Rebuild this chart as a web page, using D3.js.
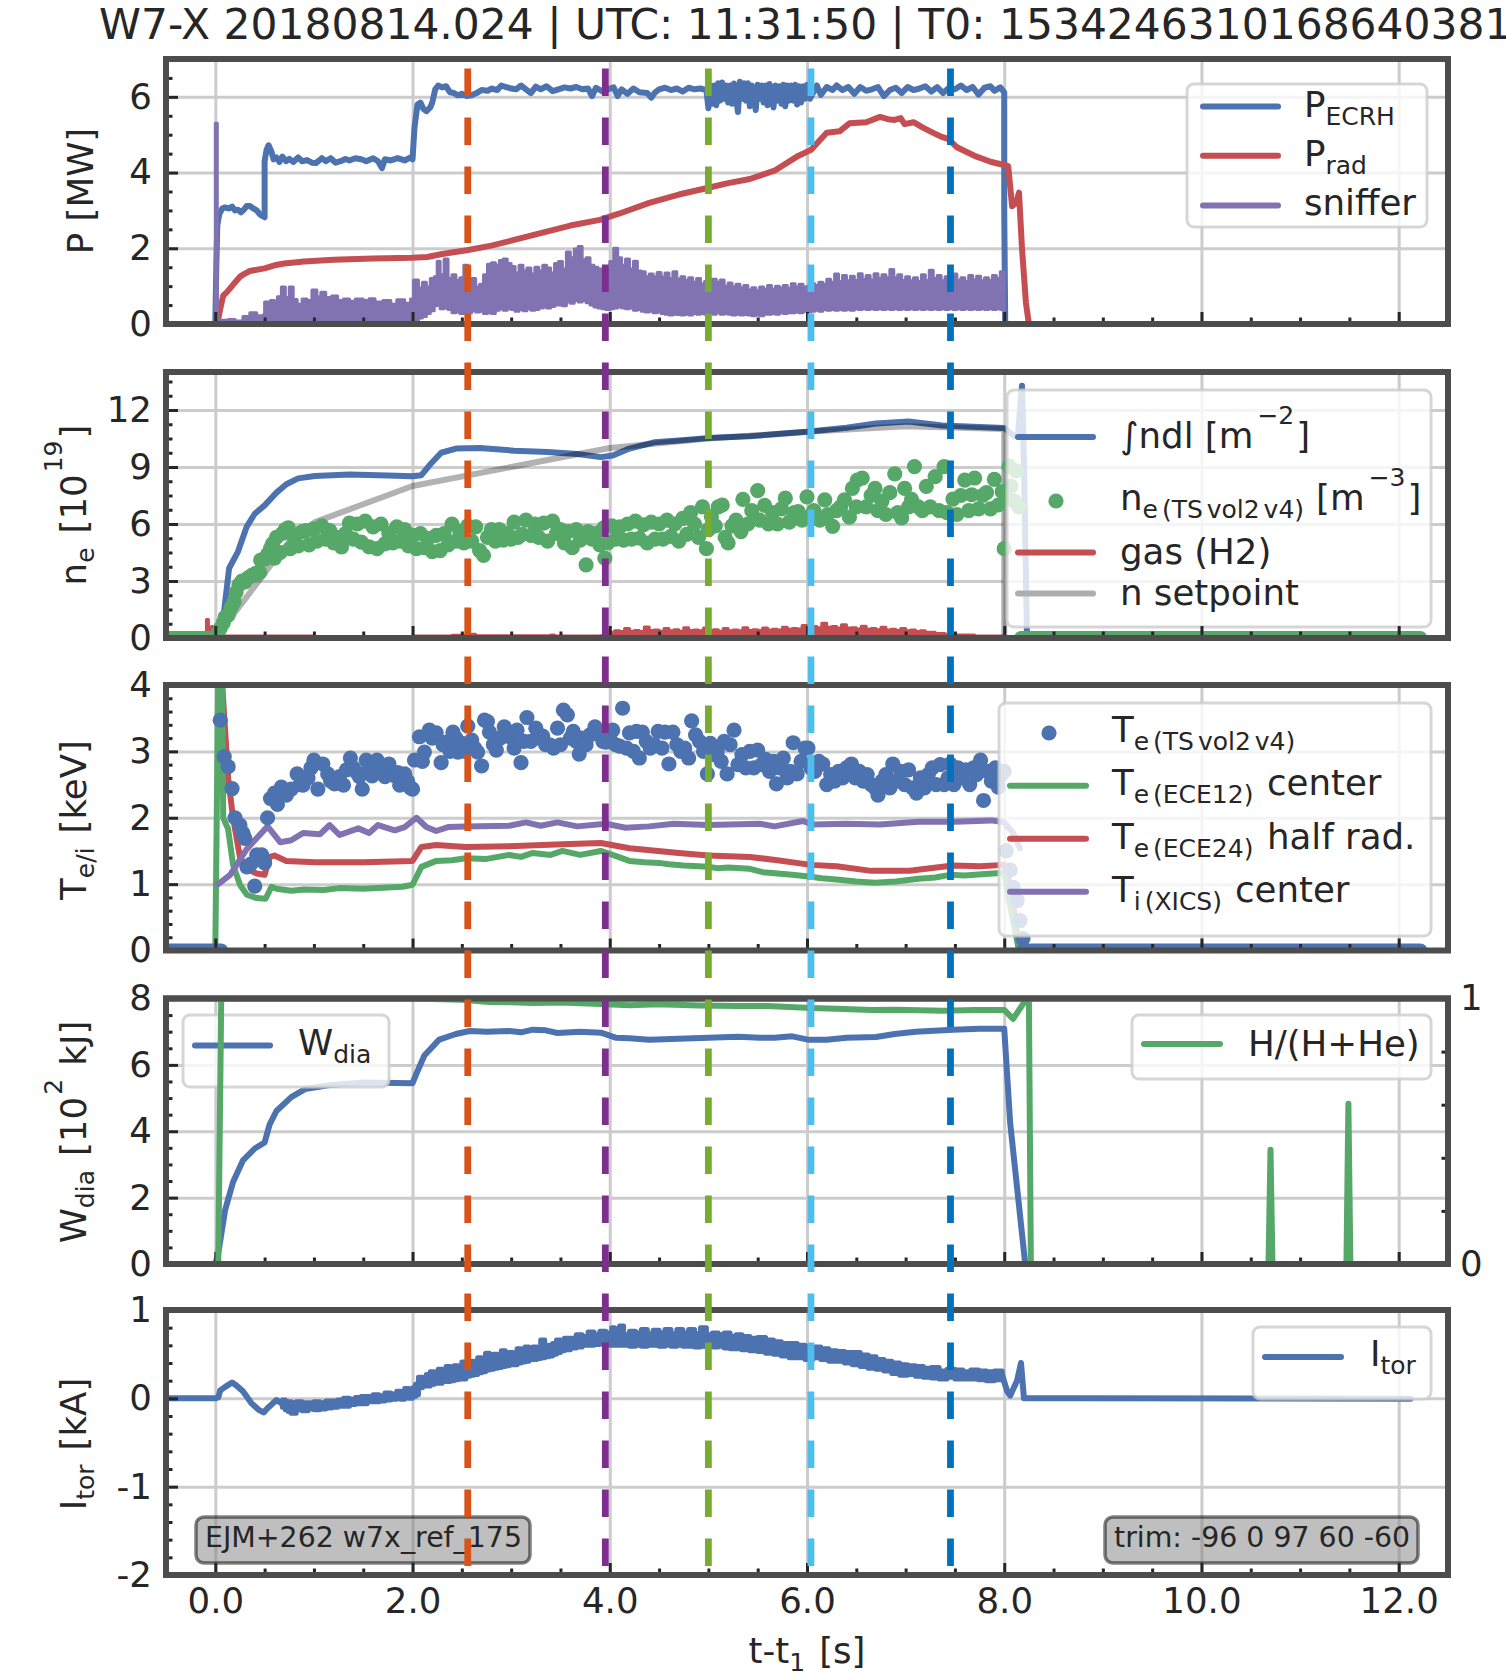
<!DOCTYPE html>
<html>
<head>
<meta charset="utf-8">
<script src="https://cdnjs.cloudflare.com/ajax/libs/d3/7.8.5/d3.min.js"></script>
<style>
  body { margin: 0; background: #fff; }
  svg { display: block; }
  text { font-family: "DejaVu Sans", sans-serif; fill: #262626; }
</style>
</head>
<body>
<div id="chart"></div>
<script>
// Values, [t, value] or [t, low, high] for the noisy traces
var xMajor = [0, 2, 4, 6, 8, 10, 12];
var xMinor = [0.5, 1, 1.5, 2.5, 3, 3.5, 4.5, 5, 5.5, 6.5, 7, 7.5, 8.5, 9, 9.5, 10.5, 11, 11.5, 12.5];
var markerTimes = [2.56, 3.955, 5.0, 6.04, 7.455];
var markerColors = ["#d95319", "#7e2f8e", "#77ac30", "#4dbeee", "#0072bd"];

var pEcrh = [[-0.5,0],[0,0],[0.01,1.5],[0.02,2.6],[0.04,2.9],[0.07,3.05],[0.1,3.08],[0.14,3.05],[0.17,3.1],[0.2,3.0],[0.23,3.02],[0.26,2.95],[0.29,3.02],[0.32,3.12],[0.35,3.12],[0.38,3.06],[0.42,3.0],[0.45,2.9],[0.48,2.85],[0.5,2.82],[0.5,4.3],[0.52,4.6],[0.54,4.72],[0.57,4.55],[0.59,4.35],[0.62,4.4],[0.65,4.28],[0.68,4.42],[0.72,4.3],[0.75,4.36],[0.79,4.28],[0.84,4.4],[0.88,4.3],[0.93,4.33],[0.98,4.26],[1.02,4.25],[1.08,4.38],[1.12,4.3],[1.17,4.38],[1.22,4.26],[1.27,4.3],[1.32,4.36],[1.36,4.32],[1.42,4.38],[1.48,4.35],[1.53,4.3],[1.6,4.38],[1.65,4.3],[1.69,4.12],[1.72,4.35],[1.78,4.32],[1.85,4.38],[1.92,4.32],[1.98,4.4],[2.0,4.35],[2.02,5.2],[2.05,5.8],[2.08,5.85],[2.11,5.68],[2.14,5.62],[2.18,5.72],[2.2,5.85],[2.23,6.2],[2.26,6.3],[2.3,6.25],[2.34,6.28],[2.38,6.12],[2.42,6.1],[2.46,6.04],[2.5,6.08],[2.55,6.02],[2.6,6.04],[2.65,6.1],[2.7,6.18],[2.76,6.16],[2.8,6.22],[2.86,6.18],[2.9,6.3],[2.95,6.26],[3.0,6.22],[3.05,6.2],[3.1,6.3],[3.15,6.2],[3.2,6.1],[3.25,6.27],[3.3,6.2],[3.36,6.28],[3.42,6.15],[3.48,6.2],[3.54,6.25],[3.6,6.22],[3.66,6.26],[3.72,6.2],[3.78,6.22],[3.82,6.02],[3.86,6.24],[3.92,6.15],[3.98,6.2],[4.04,6.25],[4.08,6.02],[4.12,6.2],[4.18,6.08],[4.24,6.22],[4.3,6.12],[4.38,6.1],[4.42,5.98],[4.46,6.12],[4.5,6.2],[4.56,6.24],[4.62,6.18],[4.68,6.22],[4.74,6.14],[4.8,6.24],[4.86,6.2],[4.92,6.22],[4.98,6.18],[5.0,5.7],[5.02,6.3],[5.04,5.82],[5.06,6.3],[5.08,5.78],[5.1,6.36],[5.12,5.9],[5.14,6.38],[5.16,5.95],[5.18,6.3],[5.2,5.85],[5.22,6.3],[5.24,5.82],[5.26,6.35],[5.28,6.0],[5.3,5.6],[5.32,6.4],[5.34,5.95],[5.36,6.36],[5.38,5.9],[5.4,6.36],[5.42,5.75],[5.44,6.3],[5.46,5.95],[5.48,5.65],[5.5,6.32],[5.52,5.95],[5.54,6.3],[5.56,5.85],[5.58,6.3],[5.6,5.78],[5.62,6.34],[5.64,5.95],[5.66,5.72],[5.68,6.3],[5.7,5.9],[5.72,6.28],[5.74,5.82],[5.76,6.32],[5.78,5.75],[5.8,6.3],[5.82,5.9],[5.84,6.3],[5.86,5.9],[5.88,6.32],[5.9,5.8],[5.92,6.28],[5.94,5.85],[5.96,6.28],[5.98,5.95],[6.0,6.32],[6.03,5.95],[6.06,6.1],[6.1,6.3],[6.14,6.05],[6.2,6.26],[6.26,6.18],[6.3,6.3],[6.36,6.18],[6.42,6.26],[6.48,6.08],[6.54,6.26],[6.6,6.16],[6.66,6.2],[6.72,6.26],[6.78,6.02],[6.84,6.18],[6.9,6.24],[6.96,6.1],[7.02,6.26],[7.08,6.18],[7.14,6.22],[7.2,6.28],[7.26,6.14],[7.32,6.26],[7.38,6.1],[7.44,6.24],[7.5,6.2],[7.56,6.3],[7.62,6.18],[7.68,6.26],[7.74,6.06],[7.8,6.24],[7.86,6.28],[7.9,6.16],[7.96,6.25],[8.0,6.12],[8.0,3.0],[8.01,0],[12.2,0]];
var pRad = [[0.02,0],[0.05,0.4],[0.08,0.75],[0.12,0.85],[0.2,1.1],[0.25,1.25],[0.3,1.33],[0.35,1.4],[0.5,1.47],[0.6,1.55],[0.7,1.6],[0.9,1.65],[1.2,1.7],[1.6,1.73],[2.0,1.75],[2.15,1.77],[2.3,1.85],[2.55,1.95],[2.8,2.07],[3.0,2.2],[3.3,2.4],[3.6,2.6],[3.9,2.75],[4.1,2.92],[4.4,3.2],[4.7,3.42],[5.0,3.6],[5.2,3.72],[5.42,3.83],[5.67,4.05],[5.91,4.44],[6.04,4.6],[6.2,5.05],[6.33,5.09],[6.43,5.3],[6.6,5.33],[6.74,5.47],[6.82,5.41],[6.89,5.39],[6.95,5.44],[6.99,5.28],[7.08,5.33],[7.18,5.18],[7.28,5.05],[7.36,4.95],[7.43,4.89],[7.52,4.67],[7.72,4.42],[7.87,4.28],[8.0,4.2],[8.04,4.17],[8.08,3.11],[8.12,3.2],[8.15,3.47],[8.18,2.0],[8.22,0.56],[8.25,0],[12.2,0]];
var pSniffer = [[-0.01,0,0],[0,0,5.3],[0.02,0,0.1],[0.13,0,0.12],[0.2,0,0.08],[0.28,0,0.2],[0.35,0,0.3],[0.42,0,0.22],[0.49,0,0.25],[0.5,0,0.58],[0.56,0,0.62],[0.6,0,0.5],[0.63,0,0.72],[0.67,0,0.98],[0.71,0,0.7],[0.75,0,0.98],[0.79,0,0.65],[0.83,0,0.52],[0.88,0,0.66],[0.93,0,0.62],[0.98,0,0.9],[1.03,0,0.72],[1.07,0,0.84],[1.12,0,0.7],[1.18,0,0.74],[1.24,0,0.62],[1.3,0,0.66],[1.36,0,0.6],[1.42,0,0.66],[1.5,0,0.62],[1.56,0,0.67],[1.62,0,0.58],[1.7,0,0.62],[1.78,0,0.52],[1.84,0,0.64],[1.92,0,0.55],[1.98,0,0.66],
[2.0,0.05,0.6],[2.01,0.1,1.16],[2.06,0.16,0.95],[2.1,0.2,1.1],[2.14,0.28,0.98],[2.18,0.35,1.2],[2.22,0.48,1.25],[2.25,0.5,1.66],[2.28,0.4,1.3],[2.32,0.42,1.72],[2.36,0.38,1.2],[2.4,0.3,1.3],[2.44,0.32,1.15],[2.48,0.28,1.22],[2.52,0.3,1.55],[2.56,0.3,1.1],[2.6,0.35,1.2],[2.64,0.32,0.98],[2.68,0.34,1.05],[2.72,0.28,1.3],[2.76,0.3,1.58],[2.8,0.28,1.62],[2.84,0.36,1.55],[2.88,0.4,1.68],[2.92,0.36,1.72],[2.96,0.4,1.6],[3.0,0.38,1.52],[3.04,0.34,1.35],[3.08,0.38,1.55],[3.12,0.35,1.4],[3.16,0.4,1.48],[3.2,0.36,1.32],[3.24,0.38,1.5],[3.28,0.42,1.4],[3.32,0.44,1.55],[3.36,0.42,1.48],[3.4,0.46,1.35],[3.44,0.5,1.6],[3.48,0.5,1.65],[3.52,0.48,1.45],[3.56,0.58,1.9],[3.6,0.55,1.75],[3.64,0.62,1.98],[3.68,0.58,2.05],[3.72,0.62,1.7],[3.76,0.56,1.75],[3.8,0.5,1.55],[3.84,0.45,1.5],[3.88,0.42,1.45],[3.92,0.4,1.38],[3.96,0.38,1.45],[4.0,0.4,1.65],[4.04,0.42,2.0],[4.08,0.45,1.75],[4.12,0.42,1.55],[4.16,0.4,1.72],[4.2,0.42,1.45],[4.24,0.36,1.66],[4.28,0.38,1.4],[4.32,0.34,1.38],[4.36,0.32,1.25],[4.4,0.34,1.32],[4.44,0.3,1.25],[4.48,0.32,1.36],[4.52,0.28,1.24],[4.56,0.26,1.35],[4.6,0.24,1.2],[4.64,0.26,1.38],[4.68,0.25,1.18],[4.72,0.24,1.25],[4.76,0.26,1.15],[4.8,0.24,1.22],[4.84,0.28,1.1],[4.88,0.26,1.2],[4.92,0.28,1.05],[4.96,0.26,1.12],[5.0,0.28,1.08],[5.04,0.26,1.18],[5.08,0.3,1.1],[5.12,0.26,1.16],[5.16,0.28,1.0],[5.2,0.26,1.08],[5.24,0.24,0.98],[5.28,0.26,1.05],[5.32,0.24,0.95],[5.36,0.25,1.02],[5.4,0.24,0.9],[5.44,0.22,0.96],[5.48,0.24,0.88],[5.52,0.22,0.98],[5.56,0.26,0.92],[5.6,0.26,1.02],[5.64,0.28,0.92],[5.68,0.26,1.0],[5.72,0.3,0.95],[5.76,0.28,1.02],[5.8,0.3,0.94],[5.84,0.3,1.06],[5.88,0.32,0.98],[5.92,0.3,1.05],[5.96,0.34,0.98],[6.0,0.32,1.0],[6.04,0.34,1.06],[6.08,0.36,1.02],[6.12,0.34,1.1],[6.16,0.38,1.05],[6.2,0.36,1.18],[6.24,0.38,1.1],[6.28,0.36,1.32],[6.32,0.38,1.12],[6.36,0.36,1.28],[6.4,0.38,1.14],[6.44,0.36,1.26],[6.48,0.4,1.15],[6.52,0.38,1.33],[6.56,0.4,1.18],[6.6,0.38,1.28],[6.64,0.4,1.16],[6.68,0.38,1.33],[6.72,0.4,1.2],[6.76,0.38,1.3],[6.8,0.4,1.22],[6.84,0.38,1.44],[6.88,0.4,1.22],[6.92,0.38,1.3],[6.96,0.4,1.15],[7.0,0.38,1.25],[7.04,0.4,1.14],[7.08,0.38,1.22],[7.12,0.4,1.12],[7.16,0.38,1.3],[7.2,0.4,1.15],[7.24,0.38,1.42],[7.28,0.4,1.2],[7.32,0.38,1.28],[7.36,0.4,1.14],[7.4,0.38,1.25],[7.44,0.4,1.2],[7.48,0.38,1.32],[7.52,0.4,1.15],[7.56,0.38,1.22],[7.6,0.4,1.12],[7.64,0.38,1.28],[7.68,0.4,1.16],[7.72,0.38,1.26],[7.76,0.4,1.14],[7.8,0.38,1.22],[7.84,0.4,1.15],[7.88,0.38,1.28],[7.92,0.4,1.2],[7.96,0.38,1.38],[8.0,0,0]];

var nIntegral = [[-0.5,0],[0.03,0],[0.08,1.0],[0.14,3.67],[0.23,4.55],[0.32,5.88],[0.4,6.54],[0.5,6.98],[0.62,7.65],[0.72,8.09],[0.84,8.4],[1.01,8.53],[1.36,8.6],[1.75,8.55],[2.0,8.51],[2.09,8.57],[2.19,9.2],[2.29,9.75],[2.44,9.97],[2.68,10.0],[3.03,9.86],[3.37,9.79],[3.67,9.68],[3.91,9.52],[4.03,9.6],[4.2,9.97],[4.45,10.3],[4.7,10.4],[4.99,10.52],[5.42,10.62],[6.0,10.85],[6.4,11.07],[6.7,11.29],[7.03,11.4],[7.37,11.18],[8.0,11.05],[8.1,10.63],[8.14,10.74],[8.18,13.28],[8.2,9.2],[8.23,0.35],[8.25,0],[12.23,0]];
var nSetpoint = [[0,0],[0.28,1.9],[0.57,3.9],[0.77,5.2],[1.01,6.1],[2.0,8.0],[4.0,10.0],[5.0,10.5],[6.0,10.85],[7.0,11.14],[8.0,11.0],[8.0,0],[8.2,0]];
var gasH2 = [[-0.5,0,0],[-0.1,0,0],[-0.09,0,0.97],[-0.07,0,0.1],[-0.04,0,0.6],[-0.02,0,0.1],[1,0,0.08],[2,0,0.1],[2.4,0,0.14],[2.6,0,0.2],[2.64,0,0.12],[3,0,0.12],[3.4,0,0.16],[3.44,0,0.1],[3.9,0,0.12],[3.95,0,0.42],[4.0,0,0.3],[4.05,0,0.38],[4.1,0,0.34],[4.15,0,0.5],[4.2,0,0.36],[4.25,0,0.4],[4.3,0,0.34],[4.35,0,0.58],[4.4,0,0.4],[4.45,0,0.42],[4.5,0,0.36],[4.55,0,0.5],[4.6,0,0.38],[4.65,0,0.44],[4.7,0,0.36],[4.75,0,0.54],[4.8,0,0.4],[4.85,0,0.42],[4.9,0,0.38],[4.95,0,0.52],[5.0,0,0.4],[5.05,0,0.44],[5.1,0,0.36],[5.15,0,0.5],[5.2,0,0.38],[5.25,0,0.42],[5.3,0,0.38],[5.35,0,0.54],[5.4,0,0.4],[5.45,0,0.44],[5.5,0,0.4],[5.55,0,0.52],[5.6,0,0.42],[5.65,0,0.46],[5.7,0,0.42],[5.75,0,0.56],[5.8,0,0.46],[5.85,0,0.5],[5.9,0,0.48],[5.95,0,0.66],[6.0,0,0.52],[6.05,0,0.6],[6.1,0,0.54],[6.15,0,0.78],[6.2,0,0.56],[6.25,0,0.6],[6.3,0,0.52],[6.35,0,0.7],[6.4,0,0.52],[6.45,0,0.54],[6.5,0,0.48],[6.55,0,0.62],[6.6,0,0.46],[6.65,0,0.5],[6.7,0,0.44],[6.75,0,0.56],[6.8,0,0.42],[6.85,0,0.46],[6.9,0,0.4],[6.95,0,0.5],[7.0,0,0.38],[7.05,0,0.42],[7.1,0,0.34],[7.15,0,0.38],[7.2,0,0.3],[7.25,0,0.3],[7.3,0,0.24],[7.35,0,0.24],[7.4,0,0.18],[7.45,0,0.16],[7.7,0,0.1],[8.0,0,0.06],[8.2,0,0]];
var neThomson = [[0.02,0.2],[0.05,0.5],[0.08,0.8],[0.1,1.1],[0.13,1.2],[0.16,1.6],[0.19,1.9],[0.21,2.4],[0.24,2.8],[0.27,3.0],[0.3,2.95],[0.33,3.15],[0.37,3.3],[0.41,3.4],[0.45,3.45],[0.46,4.1],[0.5,4.15],[0.53,4.4],[0.56,4.7],[0.58,4.95],[0.6,4.2],[0.62,5.3],[0.66,4.5],[0.68,5.5],[0.71,5.7],[0.74,5.8],[0.76,4.7],[0.8,5.3],[0.84,4.85],[0.88,5.6],[0.92,5.65],[0.95,4.9],[1.0,5.75],[1.03,5.1],[1.08,5.9],[1.12,5.2],[1.16,5.65],[1.2,5.0],[1.24,5.3],[1.28,4.8],[1.32,5.5],[1.36,6.05],[1.4,5.2],[1.44,6.0],[1.48,5.05],[1.52,6.15],[1.56,4.8],[1.6,5.85],[1.64,4.7],[1.68,6.0],[1.72,4.95],[1.76,5.5],[1.8,5.0],[1.84,5.85],[1.88,5.1],[1.92,5.7],[1.96,4.85],[2.0,5.4],[2.04,4.7],[2.08,5.5],[2.12,4.75],[2.16,5.25],[2.2,4.55],[2.24,5.4],[2.28,4.6],[2.32,5.5],[2.36,4.9],[2.4,6.0],[2.44,5.1],[2.48,5.6],[2.52,5.0],[2.56,5.9],[2.6,5.1],[2.64,5.85],[2.68,4.6],[2.72,4.35],[2.76,5.3],[2.8,5.7],[2.84,5.1],[2.88,5.7],[2.92,5.15],[2.96,5.5],[3.0,5.2],[3.03,6.1],[3.07,5.3],[3.11,5.45],[3.15,6.2],[3.2,5.4],[3.24,6.0],[3.28,5.3],[3.33,6.05],[3.37,5.1],[3.42,6.15],[3.46,5.5],[3.5,5.7],[3.54,5.0],[3.58,5.6],[3.62,4.75],[3.66,5.7],[3.7,5.15],[3.76,3.85],[3.78,5.6],[3.82,5.2],[3.86,5.5],[3.9,4.9],[3.94,5.8],[3.95,4.2],[3.98,5.0],[4.02,5.9],[4.06,5.2],[4.1,5.85],[4.14,5.15],[4.18,6.0],[4.22,5.2],[4.26,6.15],[4.3,5.25],[4.34,5.95],[4.38,5.0],[4.42,6.1],[4.46,5.2],[4.5,6.0],[4.54,5.2],[4.58,6.2],[4.62,5.35],[4.66,6.0],[4.7,5.1],[4.74,6.3],[4.78,5.45],[4.82,6.6],[4.86,6.0],[4.9,5.3],[4.94,6.9],[4.98,4.7],[5.0,5.7],[5.03,6.4],[5.07,5.9],[5.1,6.9],[5.14,7.0],[5.17,5.3],[5.2,5.0],[5.24,5.9],[5.28,6.2],[5.33,5.6],[5.35,7.3],[5.4,6.0],[5.44,6.7],[5.5,7.76],[5.52,6.2],[5.57,6.98],[5.61,6.0],[5.65,6.6],[5.7,6.0],[5.74,6.8],[5.78,7.36],[5.82,6.1],[5.87,6.6],[5.91,6.65],[5.95,6.2],[6.0,7.43],[6.03,6.4],[6.07,6.7],[6.1,6.3],[6.13,6.2],[6.18,7.27],[6.21,6.5],[6.26,5.88],[6.3,6.7],[6.34,6.9],[6.38,7.27],[6.43,6.36],[6.46,7.87],[6.5,6.9],[6.51,8.31],[6.56,8.42],[6.6,6.9],[6.65,7.5],[6.69,7.87],[6.72,6.7],[6.76,7.2],[6.8,6.5],[6.84,7.65],[6.89,8.64],[6.92,6.6],[6.96,6.32],[6.99,7.87],[7.03,6.9],[7.06,7.3],[7.09,9.02],[7.13,6.9],[7.17,6.7],[7.21,7.98],[7.25,6.9],[7.3,8.49],[7.34,6.7],[7.39,9.02],[7.42,6.6],[7.48,7.31],[7.52,6.5],[7.56,7.5],[7.6,8.31],[7.64,6.7],[7.67,7.54],[7.7,8.42],[7.74,6.8],[7.78,7.5],[7.82,7.65],[7.86,6.8],[7.9,8.35],[7.94,7.0],[7.98,7.7],[8.0,4.7],[8.03,7.4],[8.07,8.0],[8.05,9.05],[8.1,7.2],[8.12,8.8],[8.15,6.9]];
var neZeroBefore = [[-0.5,0],[0.03,0]];
var neZeroAfter = [[8.17,0],[12.22,0]];

var teThomson = [[0.05,3.47],[0.09,2.92],[0.13,2.77],[0.17,2.44],[0.2,2.0],[0.25,1.89],[0.28,1.77],[0.3,1.69],[0.32,1.26],[0.36,1.3],[0.4,0.97],[0.42,1.44],[0.47,1.44],[0.5,1.32],[0.53,2.0],[0.56,2.29],[0.6,2.37],[0.63,2.2],[0.67,2.46],[0.72,2.34],[0.77,2.43],[0.83,2.66],[0.86,2.5],[0.89,2.49],[0.94,2.6],[0.97,2.75],[1.0,2.87],[1.04,2.43],[1.09,2.81],[1.14,2.66],[1.17,2.55],[1.21,2.51],[1.26,2.62],[1.3,2.49],[1.33,2.72],[1.37,2.9],[1.4,2.75],[1.43,2.69],[1.46,2.62],[1.49,2.43],[1.53,2.87],[1.56,2.72],[1.59,2.63],[1.62,2.78],[1.64,2.87],[1.68,2.7],[1.72,2.62],[1.76,2.81],[1.79,2.65],[1.82,2.63],[1.85,2.68],[1.87,2.49],[1.9,2.6],[1.92,2.66],[1.95,2.55],[1.98,2.45],[2.0,2.43],[2.02,2.87],[2.07,3.22],[2.1,2.85],[2.12,2.99],[2.17,3.32],[2.2,3.2],[2.24,3.28],[2.29,2.83],[2.31,3.1],[2.34,3.14],[2.38,3.0],[2.41,3.29],[2.44,3.2],[2.46,2.99],[2.5,3.12],[2.53,3.0],[2.56,3.38],[2.6,3.17],[2.63,3.05],[2.66,2.99],[2.7,2.78],[2.73,3.47],[2.76,3.45],[2.78,3.29],[2.82,3.1],[2.85,3.02],[2.89,3.2],[2.93,3.37],[2.96,3.3],[2.99,3.22],[3.03,3.05],[3.06,3.32],[3.1,2.83],[3.13,3.15],[3.16,3.51],[3.2,3.15],[3.25,3.35],[3.28,3.2],[3.32,3.23],[3.35,3.1],[3.39,3.1],[3.43,3.05],[3.47,3.35],[3.5,3.1],[3.53,3.62],[3.57,3.55],[3.6,3.2],[3.63,3.3],[3.66,3.15],[3.69,2.96],[3.72,3.2],[3.76,3.1],[3.8,3.25],[3.85,3.37],[3.9,3.25],[3.93,3.15],[3.96,3.14],[4.0,3.2],[4.03,3.32],[4.06,3.1],[4.1,3.08],[4.13,3.65],[4.17,3.05],[4.2,3.28],[4.24,3.0],[4.27,3.3],[4.3,2.9],[4.33,3.29],[4.37,3.15],[4.41,3.05],[4.45,3.1],[4.49,3.3],[4.53,3.05],[4.56,3.29],[4.6,2.81],[4.64,3.29],[4.68,3.1],[4.72,3.0],[4.76,3.05],[4.8,2.9],[4.83,3.46],[4.87,3.25],[4.91,3.15],[4.95,3.0],[4.99,2.66],[5.02,3.12],[5.06,2.95],[5.09,3.0],[5.13,2.85],[5.16,3.15],[5.19,2.66],[5.22,3.1],[5.26,3.32],[5.3,2.8],[5.34,2.95],[5.38,2.75],[5.42,3.0],[5.46,2.75],[5.5,3.02],[5.54,2.8],[5.58,2.88],[5.62,2.7],[5.66,2.85],[5.69,2.51],[5.72,2.75],[5.76,2.9],[5.8,2.6],[5.83,2.7],[5.86,3.13],[5.9,2.66],[5.94,2.85],[5.98,3.05],[6.01,3.05],[6.04,2.75],[6.08,2.7],[6.12,2.85],[6.16,2.81],[6.2,2.5],[6.24,2.65],[6.28,2.55],[6.32,2.7],[6.36,2.6],[6.4,2.75],[6.45,2.81],[6.49,2.6],[6.53,2.7],[6.57,2.55],[6.61,2.65],[6.65,2.5],[6.69,2.45],[6.72,2.34],[6.76,2.55],[6.8,2.65],[6.84,2.45],[6.87,2.81],[6.91,2.55],[6.95,2.7],[6.99,2.5],[7.03,2.72],[7.07,2.45],[7.11,2.37],[7.15,2.6],[7.19,2.45],[7.23,2.65],[7.27,2.75],[7.31,2.5],[7.35,2.8],[7.39,2.5],[7.43,2.6],[7.45,2.81],[7.49,2.5],[7.53,2.75],[7.57,2.6],[7.61,2.72],[7.65,2.5],[7.69,2.75],[7.72,2.65],[7.76,2.87],[7.79,2.26],[7.83,2.7],[7.87,2.55],[7.91,2.75],[7.94,2.46],[7.96,2.63],[8.0,2.7],[8.02,1.5],[8.06,1.21],[8.09,0.95],[8.13,0.75],[8.16,0.45],[8.19,0.18]];
var teZeroBefore = [[-0.5,0],[0.06,0]];
var teZeroAfter = [[8.19,0],[12.22,0]];
var teEce12 = [[-0.5,0],[0,0],[0.03,4.2],[0.07,4.2],[0.08,2.0],[0.13,1.83],[0.18,1.29],[0.25,0.99],[0.32,0.84],[0.42,0.79],[0.51,0.78],[0.57,0.96],[0.62,0.93],[0.77,0.9],[0.9,0.92],[1.1,0.91],[1.26,0.94],[1.5,0.93],[1.75,0.95],[1.9,0.96],[2.0,0.99],[2.09,1.26],[2.24,1.35],[2.4,1.36],[2.54,1.39],[2.75,1.38],[2.98,1.44],[3.1,1.41],[3.22,1.47],[3.4,1.44],[3.52,1.5],[3.7,1.44],[3.91,1.5],[4.05,1.43],[4.2,1.35],[4.35,1.33],[4.5,1.32],[4.6,1.3],[4.75,1.28],[5.0,1.26],[5.1,1.24],[5.2,1.25],[5.42,1.23],[5.55,1.18],[5.7,1.16],[5.85,1.14],[6.04,1.11],[6.15,1.09],[6.3,1.07],[6.5,1.04],[6.69,1.02],[6.9,1.04],[7.13,1.08],[7.3,1.1],[7.45,1.14],[7.6,1.13],[7.7,1.14],[8.0,1.17],[8.05,0.75],[8.15,0],[12.2,0]];
var teEce24 = [[0.06,4.2],[0.07,4.0],[0.13,2.6],[0.18,2.0],[0.25,1.41],[0.32,1.23],[0.42,1.16],[0.5,1.14],[0.55,1.41],[0.6,1.43],[0.72,1.35],[1.01,1.33],[1.5,1.33],[2.0,1.35],[2.09,1.56],[2.24,1.59],[2.54,1.56],[2.98,1.57],[3.52,1.6],[3.91,1.62],[4.2,1.54],[4.7,1.47],[5.0,1.43],[5.42,1.41],[5.7,1.36],[6.04,1.29],[6.3,1.27],[6.65,1.2],[7.04,1.2],[7.48,1.28],[7.75,1.27],[8.0,1.29],[8.07,0.93],[8.15,0],[12.2,0]];
var tiXics = [[0.03,1.0],[0.15,1.14],[0.32,1.53],[0.53,1.87],[0.66,1.63],[0.77,1.66],[0.89,1.77],[1.06,1.75],[1.16,1.89],[1.26,1.74],[1.45,1.84],[1.56,1.77],[1.65,1.89],[1.82,1.81],[1.92,1.86],[2.04,2.0],[2.14,1.86],[2.24,1.8],[2.36,1.86],[2.54,1.87],[2.98,1.88],[3.15,1.93],[3.3,1.88],[3.47,1.93],[3.67,1.87],[3.96,1.91],[4.16,1.85],[4.4,1.87],[4.65,1.91],[5.0,1.89],[5.52,1.91],[5.67,1.87],[5.96,1.95],[6.06,1.9],[6.4,1.91],[6.74,1.9],[7.13,1.94],[7.5,1.94],[7.87,1.96],[8.0,1.93],[8.09,1.77],[8.16,1.54]];

var wDia = [[-0.5,0],[0,0],[0.03,0.32],[0.1,1.63],[0.18,2.47],[0.28,3.12],[0.4,3.48],[0.5,3.66],[0.55,4.2],[0.62,4.61],[0.77,5.03],[0.91,5.27],[1.16,5.39],[1.5,5.47],[2.0,5.45],[2.04,5.74],[2.12,6.28],[2.27,6.76],[2.44,6.93],[2.58,7.02],[2.75,7.0],[2.98,7.02],[3.1,6.98],[3.22,7.06],[3.35,7.04],[3.47,6.96],[3.7,7.0],[3.91,6.97],[4.06,6.82],[4.2,6.8],[4.4,6.76],[5.0,6.82],[5.3,6.85],[5.52,6.82],[5.67,6.82],[5.85,6.86],[6.01,6.76],[6.2,6.76],[6.4,6.82],[6.7,6.84],[6.89,6.93],[7.1,7.0],[7.48,7.06],[7.75,7.09],[8.0,7.09],[8.06,4.26],[8.21,0.08],[8.22,0]];
var hFraction = [[-0.5,0],[0.03,0],[0.06,1.0],[0.07,1.0],[0.5,1.0],[1,1.0],[2,1.0],[2.5,0.995],[2.78,0.987],[3.0,0.986],[3.22,0.983],[3.5,0.985],[3.91,0.979],[4.2,0.975],[4.5,0.978],[4.9,0.974],[5.29,0.972],[5.6,0.972],[6.04,0.964],[6.3,0.961],[6.65,0.957],[6.9,0.958],[7.38,0.954],[7.7,0.957],[8.0,0.957],[8.09,0.923],[8.19,0.979],[8.22,0.994],[8.25,1.0],[8.27,0],[10.68,0],[10.7,0.43],[10.72,0],[11.47,0],[11.49,0.604],[11.51,0],[12.2,0]];

var iTorHead = [[-0.5,0],[0,0],[0.03,0.01],[0.05,0.09],[0.1,0.13],[0.17,0.18],[0.22,0.14],[0.28,0.08],[0.37,-0.06],[0.44,-0.13],[0.49,-0.16],[0.54,-0.1],[0.62,-0.02],[0.68,-0.06]];
var iTorNoisy = [[0.68,-0.1,-0.02],[0.71,-0.13,-0.04],[0.74,-0.15,-0.04],[0.77,-0.17,-0.05],[0.82,-0.13,-0.04],[0.88,-0.14,-0.05],[0.94,-0.12,-0.05],[1.0,-0.13,-0.04],[1.06,-0.12,-0.05],[1.12,-0.11,-0.03],[1.18,-0.1,-0.03],[1.24,-0.09,-0.02],[1.3,-0.09,0],[1.36,-0.07,-0.01],[1.42,-0.06,0.01],[1.48,-0.06,0.02],[1.54,-0.04,0.02],[1.6,-0.04,0.04],[1.66,-0.03,0.03],[1.72,-0.02,0.06],[1.78,-0.01,0.05],[1.84,0,0.08],[1.88,-0.01,0.06],[1.92,0.01,0.11],[1.96,0,0.07],[2.0,0.02,0.12],[2.03,0.04,0.16],[2.06,0.12,0.24],[2.1,0.14,0.22],[2.14,0.14,0.27],[2.18,0.16,0.3],[2.22,0.17,0.26],[2.26,0.17,0.33],[2.3,0.2,0.28],[2.34,0.19,0.36],[2.38,0.2,0.32],[2.42,0.21,0.37],[2.46,0.22,0.33],[2.5,0.22,0.41],[2.54,0.25,0.36],[2.58,0.26,0.42],[2.62,0.27,0.4],[2.66,0.29,0.46],[2.7,0.3,0.44],[2.74,0.32,0.51],[2.78,0.33,0.46],[2.82,0.34,0.5],[2.86,0.35,0.47],[2.9,0.36,0.54],[2.94,0.37,0.47],[2.98,0.38,0.52],[3.02,0.38,0.49],[3.06,0.4,0.56],[3.1,0.41,0.5],[3.14,0.42,0.58],[3.18,0.44,0.52],[3.22,0.44,0.58],[3.26,0.45,0.53],[3.3,0.46,0.66],[3.34,0.47,0.55],[3.38,0.48,0.6],[3.42,0.5,0.62],[3.46,0.52,0.66],[3.5,0.54,0.63],[3.54,0.55,0.68],[3.6,0.57,0.68],[3.66,0.58,0.72],[3.72,0.6,0.7],[3.78,0.6,0.75],[3.84,0.61,0.72],[3.9,0.62,0.76],[3.96,0.6,0.74],[4.02,0.6,0.8],[4.05,0.6,0.72],[4.1,0.6,0.82],[4.14,0.6,0.72],[4.2,0.59,0.76],[4.26,0.6,0.74],[4.32,0.59,0.78],[4.38,0.6,0.73],[4.44,0.6,0.77],[4.5,0.59,0.74],[4.56,0.6,0.78],[4.62,0.59,0.73],[4.68,0.6,0.78],[4.74,0.59,0.74],[4.8,0.59,0.78],[4.86,0.58,0.73],[4.92,0.59,0.8],[4.98,0.58,0.72],[5.04,0.58,0.74],[5.1,0.59,0.72],[5.16,0.57,0.74],[5.22,0.56,0.7],[5.28,0.56,0.72],[5.34,0.55,0.7],[5.42,0.54,0.68],[5.5,0.53,0.69],[5.58,0.51,0.66],[5.66,0.5,0.64],[5.74,0.48,0.62],[5.82,0.46,0.62],[5.9,0.46,0.6],[5.98,0.44,0.58],[6.06,0.46,0.58],[6.14,0.44,0.56],[6.22,0.42,0.54],[6.3,0.42,0.53],[6.38,0.4,0.52],[6.46,0.38,0.52],[6.54,0.36,0.49],[6.62,0.34,0.47],[6.7,0.33,0.44],[6.78,0.31,0.42],[6.86,0.28,0.4],[6.94,0.26,0.38],[7.02,0.27,0.37],[7.1,0.25,0.36],[7.18,0.24,0.34],[7.26,0.23,0.35],[7.34,0.22,0.31],[7.42,0.24,0.33],[7.5,0.22,0.32],[7.58,0.22,0.3],[7.66,0.22,0.32],[7.74,0.21,0.31],[7.82,0.2,0.3],[7.9,0.21,0.31],[7.98,0.22,0.3]];
var iTorTail = [[7.98,0.26],[8.03,0.08],[8.06,0.03],[8.13,0.2],[8.17,0.4],[8.2,0],[8.7,0],[12.12,-0.005]];

// layout
var width = 1506, height = 1678;
var frameLeft = 166, frameRight = 1448;
var blue = "#4c72b0", green = "#55a868", red = "#c44e52", purple = "#8172b2";
var lw = 6, fs = 35.6, fsSub = 25;

var svg = d3.select("#chart").append("svg").attr("width", width).attr("height", height);
svg.append("rect").attr("width", width).attr("height", height).attr("fill", "#fff");

var x = d3.scaleLinear().domain([-0.5, 12.5]).range([frameLeft, frameRight]);

var clipCount = 0;
function makePanel(top, bottom, yDomain, yMajor, yMinor) {
	var y = d3.scaleLinear().domain(yDomain).range([bottom, top]);
	var g = svg.append("g");
	var id = "clip" + (clipCount++);
	svg.append("clipPath").attr("id", id).append("rect")
		.attr("x", frameLeft).attr("y", top).attr("width", frameRight - frameLeft).attr("height", bottom - top);

	// grid
	var grid = g.append("g").attr("class", "grid");
	grid.append("g").attr("transform", "translate(0," + bottom + ")")
		.call(d3.axisBottom(x).tickValues(xMajor).tickSize(-(bottom - top)).tickFormat(""));
	grid.append("g").attr("transform", "translate(" + frameLeft + ",0)")
		.call(d3.axisLeft(y).tickValues(yMajor).tickSize(-(frameRight - frameLeft)).tickFormat(""));
	grid.selectAll("line").attr("stroke", "#cccccc").attr("stroke-width", 3);
	grid.selectAll(".domain").remove();

	var data = g.append("g").attr("clip-path", "url(#" + id + ")");
	var over = g.append("g");
	return {g: g, y: y, top: top, bottom: bottom, data: data, over: over, yMajor: yMajor, yMinor: yMinor, clip: id};
}

function finishPanel(p, showX) {
	var ticks = p.g.append("g");
	ticks.append("g").attr("transform", "translate(0," + p.bottom + ")")
		.call(d3.axisBottom(x).tickValues(xMajor).tickSize(-12).tickPadding(13)
			.tickFormat(showX ? d3.format(".1f") : ""));
	ticks.append("g").attr("transform", "translate(0," + p.bottom + ")")
		.call(d3.axisBottom(x).tickValues(xMinor).tickSize(-6.5).tickFormat(""));
	ticks.append("g").attr("transform", "translate(" + frameLeft + ",0)")
		.call(d3.axisLeft(p.y).tickValues(p.yMajor).tickSize(-12).tickPadding(14).tickFormat(String));
	ticks.append("g").attr("transform", "translate(" + frameLeft + ",0)")
		.call(d3.axisLeft(p.y).tickValues(p.yMinor).tickSize(-6.5).tickFormat(""));
	ticks.selectAll(".domain").remove();
	ticks.selectAll("line").attr("stroke", "#262626").attr("stroke-width", 3);
	ticks.selectAll("text").style("font-size", fs + "px").style("font-family", '"DejaVu Sans"').attr("fill", "#262626");
	p.g.append("rect").attr("x", frameLeft).attr("y", p.top)
		.attr("width", frameRight - frameLeft).attr("height", p.bottom - p.top)
		.attr("fill", "none").attr("stroke", "#4d4d4d").attr("stroke-width", 6);
}

function drawLine(p, rows, color, w, scale) {
	var yy = scale || p.y;
	return p.data.append("path").datum(rows)
		.attr("fill", "none").attr("stroke", color).attr("stroke-width", w || lw)
		.attr("stroke-linejoin", "round").attr("stroke-linecap", "round")
		.attr("d", d3.line().x(function(d) { return x(d[0]); }).y(function(d) { return yy(d[1]); }));
}

function drawBand(p, rows, color, w) {
	return p.data.append("path").datum(rows)
		.attr("fill", color).attr("stroke", color).attr("stroke-width", w || 3).attr("stroke-linejoin", "round")
		.attr("d", d3.area().curve(d3.curveStepAfter).x(function(d) { return x(d[0]); })
			.y0(function(d) { return p.y(d[1]); }).y1(function(d) { return p.y(d[2]); }));
}

function drawDots(p, rows, color) {
	p.data.append("g").selectAll("circle").data(rows).enter().append("circle")
		.attr("cx", function(d) { return x(d[0]); }).attr("cy", function(d) { return p.y(d[1]); })
		.attr("r", 7.6).attr("fill", color);
}

// text with sub and superscripts: parts are [string, kind, extra dx]
function rich(parent, px, py, parts, opts) {
	opts = opts || {};
	var t = parent.append("text").attr("x", px).attr("y", py)
		.attr("text-anchor", opts.anchor || "start")
		.style("font-size", (opts.size || fs) + "px");
	if (opts.rotate) t.attr("transform", "rotate(-90," + px + "," + py + ")");
	var cur = 0;
	parts.forEach(function(part) {
		var kind = part[1];
		var off = kind === "sub" ? 8 : kind === "sup" ? (opts.supRaise || -24) : 0;
		var s = t.append("tspan").attr("dy", off - cur).text(part[0]);
		if (kind) s.style("font-size", (opts.subSize || fsSub) + "px").style("word-spacing", "-4px");
		if (part[2]) s.attr("dx", part[2]);
		cur = off;
	});
	return t;
}

function legendBox(parent, x0, y0, x1, y1) {
	parent.append("rect").attr("x", x0).attr("y", y0).attr("width", x1 - x0).attr("height", y1 - y0)
		.attr("rx", 7).attr("ry", 7)
		.attr("fill", "#fff").attr("fill-opacity", 0.8)
		.attr("stroke", "#cccccc").attr("stroke-opacity", 0.8).attr("stroke-width", 3);
}

function legendLine(parent, x0, x1, yy, color) {
	parent.append("line").attr("x1", x0).attr("x2", x1).attr("y1", yy).attr("y2", yy)
		.attr("stroke", color).attr("stroke-width", lw).attr("stroke-linecap", "round");
}

function noteBox(parent, x0, y0, x1, y1, label, tx, ty) {
	parent.append("rect").attr("x", x0).attr("y", y0).attr("width", x1 - x0).attr("height", y1 - y0)
		.attr("rx", 8).attr("ry", 8)
		.attr("fill", "#808080").attr("fill-opacity", 0.5)
		.attr("stroke", "#000").attr("stroke-opacity", 0.5).attr("stroke-width", 3.5);
	parent.append("text").attr("x", tx).attr("y", ty).style("font-size", "28.4px").text(label);
}

// title, runs off the right edge as in the original figure
svg.append("text").attr("x", 99).attr("y", 38.5).style("font-size", "42.4px")
	.text("W7-X 20180814.024 | UTC: 11:31:50 | T0: 1534246310168640381");

// P panel
var p1 = makePanel(59, 324, [0, 7], [0, 2, 4, 6], [0.5, 1, 1.5, 2.5, 3, 3.5, 4.5, 5, 5.5, 6.5]);
drawLine(p1, pEcrh, blue);
drawLine(p1, pRad, red);
drawBand(p1, pSniffer, purple);
finishPanel(p1, false);
legendBox(p1.over, 1187, 84, 1427, 227);
legendLine(p1.over, 1203, 1278, 106.5, blue);
legendLine(p1.over, 1203, 1278, 155.7, red);
legendLine(p1.over, 1203, 1278, 205.4, purple);
rich(p1.over, 1304, 117, [["P"], ["ECRH", "sub"]]);
rich(p1.over, 1304, 166, [["P"], ["rad", "sub"]]);
rich(p1.over, 1304, 215, [["sniffer"]]);
rich(svg, 93, 191, [["P [MW]"]], {anchor: "middle", rotate: true});

// density panel
var p2 = makePanel(372, 638, [0, 14], [0, 3, 6, 9, 12], [0.75, 1.5, 2.25, 3.75, 4.5, 5.25, 6.75, 7.5, 8.25, 9.75, 10.5, 11.25, 12.75, 13.5]);
drawLine(p2, nIntegral, blue);
drawBand(p2, gasH2, red);
drawLine(p2, nSetpoint, "rgba(0,0,0,0.3)");
drawDots(p2, neThomson, green);
drawLine(p2, neZeroBefore, green, 14);
drawLine(p2, neZeroAfter, green, 14);
finishPanel(p2, false);
legendBox(p2.over, 1007, 390, 1431, 627);
legendLine(p2.over, 1018, 1093, 437, blue);
p2.over.append("circle").attr("cx", 1056).attr("cy", 501).attr("r", 7.6).attr("fill", green);
legendLine(p2.over, 1018, 1093, 552.6, red);
legendLine(p2.over, 1018, 1093, 593.4, "#aeaeae");
rich(p2.over, 1120, 448, [["\u222Bndl [m"], ["\u22122", "sup", 4], ["]", null, 2]]);
rich(p2.over, 1120, 510, [["n"], ["e (TS vol2 v4)", "sub"], ["[m", null, 12], ["\u22123", "sup", 4], ["]", null, 2]]);
rich(p2.over, 1120, 564, [["gas (H2)"]]);
rich(p2.over, 1120, 605, [["n setpoint"]]);
rich(svg, 86, 505, [["n"], ["e", "sub"], ["[10", null, 14], ["19", "sup", 2], ["]", null, 2]], {anchor: "middle", rotate: true});

// temperature panel
var p3 = makePanel(685, 950.5, [0, 4], [0, 1, 2, 3, 4], [0.2, 0.4, 0.6, 0.8, 1.2, 1.4, 1.6, 1.8, 2.2, 2.4, 2.6, 2.8, 3.2, 3.4, 3.6, 3.8]);
drawLine(p3, teEce24, red);
drawLine(p3, teEce12, green);
drawLine(p3, tiXics, purple);
drawDots(p3, teThomson, blue);
drawLine(p3, teZeroBefore, blue, 14);
drawLine(p3, teZeroAfter, blue, 14);
finishPanel(p3, false);
legendBox(p3.over, 999, 703, 1431, 936);
p3.over.append("circle").attr("cx", 1049).attr("cy", 733).attr("r", 7.6).attr("fill", blue);
legendLine(p3.over, 1010, 1086, 785.7, green);
legendLine(p3.over, 1010, 1086, 838.7, red);
legendLine(p3.over, 1010, 1086, 891.7, purple);
rich(p3.over, 1112, 742, [["T"], ["e (TS vol2 v4)", "sub"]]);
rich(p3.over, 1112, 795, [["T"], ["e (ECE12)", "sub"]]);
rich(p3.over, 1267, 795, [["center"]]);
rich(p3.over, 1112, 849, [["T"], ["e (ECE24)", "sub"]]);
rich(p3.over, 1267, 849, [["half rad."]]);
rich(p3.over, 1112, 902, [["T"], ["i (XICS)", "sub"]]);
rich(p3.over, 1235, 902, [["center"]]);
rich(svg, 86, 820, [["T"], ["e/i", "sub"], ["[keV]", null, 14]], {anchor: "middle", rotate: true});

// energy panel, H fraction on the twin axis
var p4 = makePanel(998.5, 1264, [0, 8], [0, 2, 4, 6, 8], [0.5, 1, 1.5, 2.5, 3, 3.5, 4.5, 5, 5.5, 6.5, 7, 7.5]);
drawLine(p4, wDia, blue);
finishPanel(p4, false);
legendBox(p4.over, 183, 1015, 389, 1087);
legendLine(p4.over, 195, 270, 1045.5, blue);
rich(p4.over, 298, 1055, [["W"], ["dia", "sub"]]);
var twinY = d3.scaleLinear().domain([0, 1]).range([p4.bottom, p4.top]);
var twin = svg.append("g");
var twinTicks = twin.append("g").attr("transform", "translate(" + frameRight + ",0)")
	.call(d3.axisRight(twinY).tickValues([0.2, 0.4, 0.6, 0.8]).tickSize(-6.5).tickFormat(""));
twinTicks.selectAll("line").attr("stroke", "#262626").attr("stroke-width", 3);
twinTicks.select(".domain").remove();
var twinLabels = twin.append("g").attr("transform", "translate(" + frameRight + ",0)")
	.call(d3.axisRight(twinY).tickValues([0, 1]).tickSize(0).tickPadding(12).tickFormat(String));
twinLabels.select(".domain").remove();
twinLabels.selectAll("text").style("font-size", fs + "px").style("font-family", '"DejaVu Sans"').attr("fill", "#262626");
var twinData = twin.append("g").attr("clip-path", "url(#" + p4.clip + ")");
twinData.append("path").datum(hFraction)
	.attr("fill", "none").attr("stroke", green).attr("stroke-width", lw).attr("stroke-linejoin", "round")
	.attr("d", d3.line().x(function(d) { return x(d[0]); }).y(function(d) { return twinY(d[1]); }));
twin.append("rect").attr("x", frameLeft).attr("y", p4.top).attr("width", frameRight - frameLeft).attr("height", p4.bottom - p4.top)
	.attr("fill", "none").attr("stroke", "#4d4d4d").attr("stroke-width", 6);
legendBox(twin, 1132, 1015, 1431, 1079);
legendLine(twin, 1144, 1220, 1044, green);
rich(twin, 1248, 1056, [["H/(H+He)"]]);
rich(svg, 86, 1132, [["W"], ["dia", "sub"], ["[10", null, 14], ["2", "sup", 2], [" kJ]", null, 2]], {anchor: "middle", rotate: true});

// toroidal current panel
var p5 = makePanel(1310, 1575, [-2, 1], [-2, -1, 0, 1], [-1.8, -1.6, -1.4, -1.2, -0.8, -0.6, -0.4, -0.2, 0.2, 0.4, 0.6, 0.8]);
drawLine(p5, iTorHead, blue);
drawBand(p5, iTorNoisy, blue, 5);
drawLine(p5, iTorTail, blue);
finishPanel(p5, true);
legendBox(p5.over, 1253, 1327, 1431, 1399);
legendLine(p5.over, 1265, 1341, 1357, blue);
rich(p5.over, 1370, 1366, [["I"], ["tor", "sub"]]);
noteBox(p5.over, 196, 1517, 530, 1563, "EJM+262 w7x_ref_175", 205, 1547);
noteBox(p5.over, 1105, 1517, 1418, 1563, "trim: -96 0 97 60 -60", 1114, 1547);
rich(svg, 86, 1444, [["I"], ["tor", "sub"], ["[kA]", null, 14]], {anchor: "middle", rotate: true});
rich(svg, 807, 1663, [["t-t"], ["1", "sub"], ["[s]", null, 14]], {anchor: "middle"});

// dashed time markers across all panels
var markers = svg.append("g");
markers.selectAll("line").data(markerTimes).enter().append("line")
	.attr("x1", function(d) { return x(d); }).attr("x2", function(d) { return x(d); })
	.attr("y1", 68.6).attr("y2", 1566)
	.attr("stroke", function(d, i) { return markerColors[i]; })
	.attr("stroke-width", 6.8).attr("stroke-dasharray", "27.5 21.5");
</script>
</body>
</html>
